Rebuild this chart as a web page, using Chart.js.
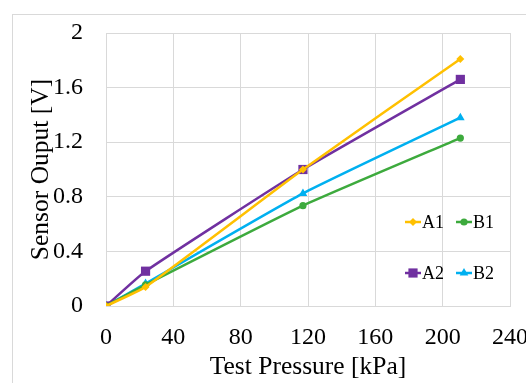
<!DOCTYPE html>
<html>
<head>
<meta charset="utf-8">
<script src="https://cdn.jsdelivr.net/npm/chart.js@4.4.0/dist/chart.umd.min.js"></script>
<style>
  html, body { margin: 0; padding: 0; background: #ffffff; }
  #wrap { width: 526px; height: 383px; position: relative; overflow: hidden; }
  #probe { position: absolute; left: -999px; font-family: 'Liberation Serif'; }
</style>
</head>
<body>
<span id="probe">0.4 Test</span>
<div id="wrap"><canvas id="chart" width="526" height="383"></canvas></div>
<script>
// pressures
var pressure = [0, 23.5, 117, 210.5];

var seriesA1 = [0, 0.14, 1.0, 1.81];
var seriesB1 = [0, 0.155, 0.735, 1.23];
var seriesA2 = [0, 0.255, 1.0, 1.66];
var seriesB2 = [0, 0.165, 0.825, 1.38];

var xTickValues = [0, 40, 80, 120, 160, 200, 240];
var yTickValues = [0, 0.4, 0.8, 1.2, 1.6, 2];
var yTickLabels = ['0', '0.4', '0.8', '1.2', '1.6', '2'];

var serif = "'Liberation Serif', 'DejaVu Serif', serif";

function pts(ys) {
    return pressure.map(function (x, i) { return { x: x, y: ys[i] }; });
}

function makeSet(label, ys, color, style, radius) {
    return {
        label: label,
        data: pts(ys),
        borderColor: color,
        backgroundColor: color,
        borderWidth: 2.5,
        pointStyle: style,
        pointRadius: radius,
        pointBorderWidth: 0,
        tension: 0.15
    };
}

// outer frame + legend drawn inside the plot
var framePlugin = {
    id: 'frame',
    beforeDraw: function (chart) {
        var c = chart.ctx;
        c.save();
        c.strokeStyle = '#d9d9d9';
        c.lineWidth = 1;
        c.strokeRect(12.5, 14.5, 600, 500);
        c.restore();
    },
    afterDraw: function (chart) {
        var c = chart.ctx;
        var spots = [[405, 222], [456, 222], [405, 273], [456, 273]];
        c.save();
        c.font = '18px ' + serif;
        c.textBaseline = 'middle';
        chart.data.datasets.forEach(function (ds, i) {
            var p = spots[i];
            c.strokeStyle = ds.borderColor;
            c.lineWidth = 2.5;
            c.beginPath();
            c.moveTo(p[0], p[1]);
            c.lineTo(p[0] + 16, p[1]);
            c.stroke();
            c.fillStyle = ds.backgroundColor;
            Chart.helpers.drawPoint(c, {
                pointStyle: ds.pointStyle,
                radius: ds.pointRadius,
                rotation: 0,
                borderWidth: 0
            }, p[0] + 8, p[1]);
            c.fillStyle = '#000';
            c.fillText(ds.label, p[0] + 17, p[1] + 1);
        });
        c.restore();
    }
};

function build() {
    var ctx = document.getElementById('chart').getContext('2d');
    new Chart(ctx, {
        type: 'line',
        data: {
            datasets: [
                makeSet('A1', seriesA1, '#FFC000', 'rectRot', 4),
                makeSet('B1', seriesB1, '#3DAA3D', 'circle', 3.6),
                makeSet('A2', seriesA2, '#7030A0', 'rect', 6.5),
                makeSet('B2', seriesB2, '#00B0F0', 'triangle', 5)
            ]
        },
        options: {
            responsive: false,
            animation: false,
            layout: { padding: { left: 26, right: 16, top: 33, bottom: 0 } },
            plugins: {
                legend: { display: false },
                tooltip: { enabled: false }
            },
            scales: {
                x: {
                    type: 'linear',
                    min: 0,
                    max: 240,
                    afterBuildTicks: function (s) {
                        s.ticks = xTickValues.map(function (v) { return { value: v }; });
                    },
                    afterFit: function (s) { s.height = 77; s.paddingRight = 0; },
                    grid: { color: '#d9d9d9', drawTicks: false },
                    border: { color: '#d9d9d9' },
                    ticks: {
                        padding: 17,
                        color: '#000',
                        maxRotation: 0,
                        font: { family: serif, size: 24 }
                    },
                    title: {
                        display: true,
                        text: 'Test Pressure [kPa]',
                        color: '#000',
                        padding: { top: 0, bottom: 0 },
                        font: { family: serif, size: 25.5 }
                    }
                },
                y: {
                    min: 0,
                    max: 2,
                    afterBuildTicks: function (s) {
                        s.ticks = yTickValues.map(function (v) { return { value: v }; });
                    },
                    afterFit: function (s) { s.width = 80; s.paddingTop = 0; s.paddingBottom = 0; },
                    grid: { color: '#d9d9d9', drawTicks: false },
                    border: { color: '#d9d9d9' },
                    ticks: {
                        padding: 23,
                        color: '#000',
                        font: { family: serif, size: 24 },
                        callback: function (v, i) { return yTickLabels[i]; }
                    },
                    title: {
                        display: true,
                        text: 'Sensor Ouput [V]',
                        color: '#000',
                        padding: { top: 0, bottom: 0 },
                        font: { family: serif, size: 25.5 }
                    }
                }
            }
        },
        plugins: [framePlugin]
    });
}

if (document.fonts && document.fonts.load) {
    document.fonts.load("22px 'Liberation Serif'").then(build, build);
} else {
    build();
}
</script>
</body>
</html>
